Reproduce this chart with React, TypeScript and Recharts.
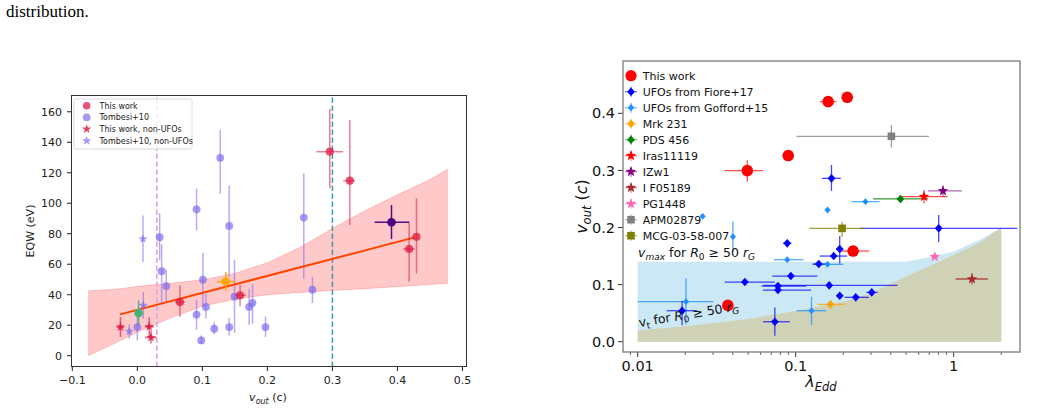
import React from 'react';
import { ComposedChart, Scatter, XAxis, YAxis, ErrorBar, Area, Line, ReferenceLine } from 'recharts';

const FONT = "'DejaVu Sans', Verdana, sans-serif";

// ---------------- Left panel: EQW vs v_out ----------------
// [v_out, EQW, v_lo, v_hi, EQW_lo, EQW_hi]
const thisWorkUFO = [
  [0.296, 133.8, 0.2756, 0.3165, 109.8, 162.2],
  [0.3268, 114.8, 0.3165, 0.3345, 85.7, 154.6],
  [0.418, 70.0, 0.4087, 0.4267, 48.5, 87.5],
  [0.4293, 78.0, 0.4293, 0.4293, 54.0, 103.2],
  [0.0655, 35.2, 0.058, 0.073, 25.4, 46.2],
  [0.158, 39.6, 0.149, 0.167, 32.4, 46.2],
];
const thisWorkNonUFO = [
  [-0.026, 18.8, -0.0317, -0.0205, 12.3, 25.4],
  [0.0183, 19.0, 0.0117, 0.0256, 12.3, 25.0],
  [0.021, 12.0, 0.0117, 0.0297, 8.0, 16.4],
];
// [v_out, EQW, EQW_lo, EQW_hi]
const tombesiUFO = [
  [0.0343, 77.7, 62.6, 93.6],
  [0.0374, 55.4, 35.0, 73.0],
  [0.0445, 45.7, 35.2, 56.5],
  [0.0, 18.8, 10.0, 27.5],
  [0.0911, 96.0, 82.3, 109.6],
  [0.1275, 129.8, 106.3, 148.0],
  [0.1413, 85.1, 51.6, 111.6],
  [0.1009, 49.9, 32.0, 67.4],
  [0.1055, 32.0, 24.3, 40.7],
  [0.0911, 27.0, 17.1, 36.8],
  [0.0983, 10.0, 7.9, 13.3],
  [0.1183, 17.7, 14.0, 22.0],
  [0.1413, 18.8, 13.3, 24.9],
  [0.1495, 38.7, 15.0, 63.0],
  [0.172, 32.0, 20.3, 44.0],
  [0.1772, 34.6, 21.0, 46.8],
  [0.1971, 18.8, 12.3, 25.8],
  [0.256, 90.6, 50.3, 119.5],
  [0.2693, 43.3, 34.6, 51.6],
];
const tombesiNonUFO = [
  [0.0087, 76.6, 61.5, 92.0],
  [0.0092, 33.0, 24.3, 41.8],
  [-0.0123, 16.0, 11.2, 20.8],
];
const greenPoint = [[0.002, 28.0, 0.002, 0.002, 20.0, 36.3]];
const orangePoint = [[0.136, 48.6, 0.122, 0.151, 42.5, 55.0]];
const indigoPoint = [[0.3909, 87.5, 0.365, 0.418, 76.5, 98.8]];
const fitX = [-0.0266, 0.4267];
const fitY = [27.1, 77.6];
const bandX = [-0.076, -0.05, -0.025, 0.0, 0.05, 0.1, 0.15, 0.2, 0.25, 0.3, 0.35, 0.4, 0.45, 0.478];
const bandHi = [42.5, 43.2, 44.0, 45.5, 47.5, 49.8, 54.0, 61.0, 71.0, 83.5, 95.0, 105.5, 115.5, 122.5];
const bandLo = [0.0, 5.0, 10.2, 15.5, 24.5, 32.5, 37.0, 40.0, 41.5, 42.8, 44.0, 45.3, 46.7, 47.5];
const leftXTicks = [-0.1, 0, 0.1, 0.2, 0.3, 0.4, 0.5];
const leftYTicks = [0, 20, 40, 60, 80, 100, 120, 140, 160];
const leftLegendLabels = ['This work', 'Tombesi+10', 'This work, non-UFOs', 'Tombesi+10, non-UFOs'];

// ---------------- Right panel: v_out vs lambda_Edd ----------------
// [lambda, v, lambda_lo, lambda_hi, v_lo, v_hi]
const thisWorkR = [
  [0.1605, 0.4204, 0.142, 0.181, 0.414, 0.427],
  [0.212, 0.428, 0.212, 0.212, 0.428, 0.428],
  [0.0897, 0.326, 0.0897, 0.0897, 0.326, 0.326],
  [0.0494, 0.2996, 0.0353, 0.0623, 0.28, 0.318],
  [0.231, 0.1588, 0.19, 0.2915, 0.1588, 0.1588],
  [0.0372, 0.0636, 0.0372, 0.0372, 0.0636, 0.0636],
];
const fiore = [
  [0.1685, 0.2861, 0.1466, 0.193, 0.264, 0.3095],
  [0.0884, 0.1723, 0.083, 0.094, 0.1723, 0.1723],
  [0.804, 0.1985, 0.2546, 2.53, 0.174, 0.222],
  [0.19, 0.1623, 0.18, 0.2, 0.137, 0.185],
  [0.174, 0.15, 0.142, 0.212, 0.15, 0.15],
  [0.14, 0.136, 0.128, 0.16, 0.136, 0.136],
  [0.0932, 0.115, 0.071, 0.1374, 0.115, 0.115],
  [0.0477, 0.1045, 0.0355, 0.0737, 0.1045, 0.1045],
  [0.0772, 0.0975, 0.0608, 0.117, 0.0975, 0.0975],
  [0.0772, 0.0905, 0.062, 0.125, 0.0905, 0.0905],
  [0.163, 0.0987, 0.0623, 0.4406, 0.0987, 0.0987],
  [0.19, 0.0806, 0.18, 0.2, 0.0806, 0.0806],
  [0.24, 0.0777, 0.204, 0.29, 0.0777, 0.0777],
  [0.303, 0.0864, 0.28, 0.33, 0.0864, 0.0864],
  [0.0191, 0.0543, 0.01525, 0.0238, 0.029, 0.0712],
  [0.0738, 0.035, 0.0623, 0.0916, 0.0105, 0.0601],
];
const gofford = [
  [0.02576, 0.2196, 0.02576, 0.02576, 0.2196, 0.2196],
  [0.159, 0.2307, 0.159, 0.159, 0.2307, 0.2307],
  [0.2764, 0.2453, 0.2258, 0.3398, 0.2453, 0.2453],
  [0.04005, 0.184, 0.04005, 0.04005, 0.1577, 0.21],
  [0.0884, 0.1436, 0.0727, 0.1117, 0.1436, 0.1436],
  [0.159, 0.1355, 0.128, 0.2, 0.1355, 0.1355],
  [0.0202, 0.0701, 0.01, 0.0301, 0.0304, 0.111],
  [0.1259, 0.0543, 0.1014, 0.156, 0.0292, 0.0788],
];
const mrk231 = [[0.166, 0.0654, 0.137, 0.204, 0.0654, 0.0654]];
const pds456 = [[0.4603, 0.25, 0.309, 0.689, 0.25, 0.25]];
const iras11119 = [[0.649, 0.254, 0.4567, 0.916, 0.2423, 0.2657]];
const izw1 = [[0.856, 0.264, 0.689, 1.13, 0.2545, 0.2737]];
const f05189 = [[1.306, 0.1098, 1.03, 1.645, 0.1, 0.12]];
const pg1448 = [[0.7586, 0.1489, 0.72, 0.8, 0.1489, 0.1489]];
const apm02879 = [[0.4035, 0.3597, 0.1012, 0.698, 0.34, 0.3796]];
const mcg = [[0.1967, 0.1985, 0.1217, 0.2738, 0.184, 0.21]];
const regionX = [0.01, 0.02, 0.05, 0.1, 0.2, 0.3, 0.5, 0.7, 1.0, 1.5, 2.0];
const vmaxTop = [0.14, 0.14, 0.14, 0.14, 0.14, 0.14, 0.14, 0.148, 0.158, 0.18, 0.2];
const vtTop = [0.02, 0.027, 0.04, 0.054, 0.07, 0.085, 0.114, 0.132, 0.152, 0.175, 0.2];
const rightXMajor = [0.01, 0.1, 1];
const rightXMinor = [0.009, 0.02, 0.03, 0.04, 0.05, 0.06, 0.07, 0.08, 0.09, 0.2, 0.3, 0.4, 0.5, 0.6, 0.7, 0.8, 0.9, 2];
const rightXLabels = ['0.01', '0.1', '1'];
const rightYTicks = [0, 0.1, 0.2, 0.3, 0.4];
const rightLegendLabels = ['This work', 'UFOs from Fiore+17', 'UFOs from Gofford+15', 'Mrk 231', 'PDS 456', 'Iras11119', 'IZw1', 'I F05189', 'PG1448', 'APM02879', 'MCG-03-58-007'];

// ---------------- helpers ----------------
const rows = (pts: number[][]) =>
  pts.map((p) => ({ x: p[0], y: p[1], ex: [p[0] - p[2], p[3] - p[0]], ey: [p[1] - p[4], p[5] - p[1]] }));
const yRows = (pts: number[][]) =>
  pts.map((p) => ({ x: p[0], y: p[1], ex: [0, 0], ey: [p[1] - p[2], p[3] - p[1]] }));

function starPath(cx: number, cy: number, R: number) {
  const r = R * 0.42;
  let d = '';
  for (let i = 0; i < 10; i++) {
    const rad = i % 2 === 0 ? R : r;
    const a = -Math.PI / 2 + (i * Math.PI) / 5;
    d += (i === 0 ? 'M' : 'L') + (cx + rad * Math.cos(a)).toFixed(2) + ',' + (cy + rad * Math.sin(a)).toFixed(2);
  }
  return d + 'Z';
}

const Glyph = ({ kind, cx, cy, s, fill, op = 1 }: any) => {
  if (cx == null || cy == null) return <g />;
  if (kind === 'circle') return <circle cx={cx} cy={cy} r={s} fill={fill} fillOpacity={op} />;
  if (kind === 'diamond')
    return <path d={`M${cx},${cy - s}L${cx + s * 0.9},${cy}L${cx},${cy + s}L${cx - s * 0.9},${cy}Z`} fill={fill} fillOpacity={op} />;
  if (kind === 'square') return <rect x={cx - s} y={cy - s} width={2 * s} height={2 * s} fill={fill} fillOpacity={op} />;
  return <path d={starPath(cx, cy, s)} fill={fill} fillOpacity={op} />;
};

const shapeOf = (kind: string, s: number, fill: string, op: number) => (props: any) =>
  <Glyph kind={kind} cx={props.cx} cy={props.cy} s={s} fill={fill} op={op} />;

const series = (key: string, data: any[], kind: string, s: number, fill: string, op: number, bar: string, bw: number) => (
  <Scatter key={key} name={key} data={data} dataKey="y" isAnimationActive={false} shape={shapeOf(kind, s, fill, op)}>
    <ErrorBar dataKey="ex" direction="x" width={0} stroke={bar} strokeWidth={bw} />
    <ErrorBar dataKey="ey" direction="y" width={0} stroke={bar} strokeWidth={bw} />
  </Scatter>
);

const fmtL = (v: number) => (v < 0 ? '\u2212' + Math.abs(v).toFixed(1) : v.toFixed(1));

const LogTick = (props: any) => {
  const { x, y, payload } = props;
  const idx = rightXMajor.indexOf(payload.value);
  const major = idx >= 0;
  return (
    <g>
      <line x1={x} x2={x} y1={y} y2={y + (major ? 5 : 2.8)} stroke="#333" strokeWidth={major ? 1 : 0.8} />
      {major && (
        <text x={x} y={y + 18.5} textAnchor="middle" fontSize={14.5} fontFamily={FONT} fill="#111">
          {rightXLabels[idx]}
        </text>
      )}
    </g>
  );
};

// ---------------- charts ----------------
const LeftChart = () => {
  const band = bandX.map((x, i) => ({ x, range: [bandLo[i], bandHi[i]] }));
  const fit = fitX.map((x, i) => ({ x, y: fitY[i] }));
  const tickStyle = { fontSize: 11, fill: '#222', fontFamily: FONT };
  return (
    <ComposedChart width={520} height={409} margin={{ top: 95, right: 53, bottom: 12, left: 0 }}>
      <XAxis dataKey="x" type="number" domain={[-0.102, 0.507]} allowDataOverflow ticks={leftXTicks} tickFormatter={fmtL}
        interval={0} height={30} tickSize={4} tickMargin={5.5} axisLine={false} tickLine={{ stroke: '#222' }} tick={tickStyle} />
      <YAxis dataKey="y" type="number" domain={[-7.4, 171]} allowDataOverflow ticks={leftYTicks} interval={0}
        width={71} tickSize={4} tickMargin={5} axisLine={false} tickLine={{ stroke: '#222' }} tick={tickStyle} />
      <Area data={band} dataKey="range" type="linear" fill="#ff0000" fillOpacity={0.21} stroke="#ff0000" strokeOpacity={0.18}
        strokeWidth={1} isAnimationActive={false} />
      <ReferenceLine x={0.03} stroke="#d9a2e6" strokeWidth={1.5} strokeDasharray="5.5 2.5" />
      <ReferenceLine x={0.3} stroke="#3f9d9d" strokeWidth={1.5} strokeDasharray="5.5 2.5" />
      {series('Tombesi+10', yRows(tombesiUFO), 'circle', 3.9, '#7b68ee', 0.68, 'rgba(123,104,238,0.55)', 1.5)}
      {series('Tombesi+10, non-UFOs', yRows(tombesiNonUFO), 'star', 4.8, '#7b68ee', 0.68, 'rgba(123,104,238,0.55)', 1.5)}
      <Line data={fit} dataKey="y" type="linear" stroke="#ff4500" strokeWidth={2} dot={false} isAnimationActive={false} />
      {series('This work', rows(thisWorkUFO), 'circle', 4.1, '#dc143c', 0.72, 'rgba(220,20,60,0.55)', 1.5)}
      {series('This work, non-UFOs', rows(thisWorkNonUFO), 'star', 5, '#dc143c', 0.78, 'rgba(220,20,60,0.65)', 1.5)}
      {series('green', rows(greenPoint), 'circle', 4.3, '#3cb371', 0.95, 'rgba(60,179,113,0.9)', 1.5)}
      {series('orange', rows(orangePoint), 'circle', 4.3, '#ffa500', 0.95, 'rgba(255,165,0,0.85)', 1.5)}
      {series('indigo', rows(indigoPoint), 'circle', 4.3, '#4b0082', 1, 'rgba(75,0,130,0.95)', 1.5)}
    </ComposedChart>
  );
};

const RightChart = () => {
  const blue = regionX.map((x, i) => ({ x, range: [0, vmaxTop[i]] }));
  const olive = regionX.map((x, i) => ({ x, range: [0, vtTop[i]] }));
  const allTicks = [...rightXMajor, ...rightXMinor].sort((a, b) => a - b);
  return (
    <ComposedChart width={519} height={409} margin={{ top: 61, right: 19, bottom: 17, left: 0 }}>
      <XAxis dataKey="x" type="number" scale="log" domain={[0.00807, 2.63]} allowDataOverflow ticks={allTicks} interval={0}
        tick={(p: any) => <LogTick {...p} />} tickSize={0} tickMargin={0} tickLine={false} axisLine={false} height={40} />
      <YAxis dataKey="y" type="number" domain={[-0.018, 0.4916]} allowDataOverflow ticks={rightYTicks} interval={0}
        tickFormatter={(v: number) => v.toFixed(1)} width={103} tickSize={5} tickMargin={3} axisLine={false}
        tickLine={{ stroke: '#333' }} tick={{ fontSize: 14.5, fill: '#111', fontFamily: FONT }} />
      <Area data={blue} dataKey="range" type="linear" fill="#cde8f5" fillOpacity={1} stroke="none" isAnimationActive={false} />
      <Area data={olive} dataKey="range" type="linear" fill="#cfd2b6" fillOpacity={1} stroke="none" isAnimationActive={false} />
      {series('Gofford', rows(gofford), 'diamond', 3.4, '#1e90ff', 1, 'rgba(30,144,255,0.75)', 1.3)}
      {series('Fiore', rows(fiore), 'diamond', 4.3, '#0000ff', 1, 'rgba(0,0,255,0.72)', 1.3)}
      {series('Mrk231', rows(mrk231), 'diamond', 4.3, '#ffa500', 1, 'rgba(255,165,0,0.8)', 1.3)}
      {series('PDS456', rows(pds456), 'diamond', 4.3, '#008000', 1, 'rgba(0,128,0,0.8)', 1.3)}
      {series('Iras11119', rows(iras11119), 'star', 5.5, '#ff0000', 1, 'rgba(255,0,0,0.7)', 1.3)}
      {series('IZw1', rows(izw1), 'star', 5.5, '#800080', 1, 'rgba(128,0,128,0.6)', 1.3)}
      {series('F05189', rows(f05189), 'star', 5.5, '#a52a2a', 1, 'rgba(165,42,42,0.8)', 1.3)}
      {series('PG1448', rows(pg1448), 'star', 5.5, '#ff69b4', 1, 'rgba(255,105,180,0.7)', 1.3)}
      {series('APM02879', rows(apm02879), 'square', 3.8, '#808080', 1, 'rgba(128,128,128,0.75)', 1.3)}
      {series('MCG', rows(mcg), 'square', 3.8, '#808000', 1, 'rgba(128,128,0,0.75)', 1.3)}
      {series('ThisWork', rows(thisWorkR), 'circle', 5.8, '#ff0000', 1, 'rgba(255,0,0,0.7)', 1.3)}
    </ComposedChart>
  );
};

// ---------------- overlay (frames, legends, labels) ----------------
const leftLegendGlyphs = [
  { kind: 'circle', s: 3.8, fill: '#dc143c', op: 0.72 },
  { kind: 'circle', s: 3.8, fill: '#7b68ee', op: 0.68 },
  { kind: 'star', s: 4.8, fill: '#dc143c', op: 0.8 },
  { kind: 'star', s: 4.8, fill: '#7b68ee', op: 0.68 },
];
const rightLegendGlyphs = [
  { kind: 'circle', s: 5.6, fill: '#ff0000', bar: '' },
  { kind: 'diamond', s: 4.3, fill: '#0000ff', bar: 'rgba(0,0,255,0.6)' },
  { kind: 'diamond', s: 3.6, fill: '#1e90ff', bar: 'rgba(30,144,255,0.6)' },
  { kind: 'diamond', s: 4.3, fill: '#ffa500', bar: 'rgba(255,165,0,0.6)' },
  { kind: 'diamond', s: 4.3, fill: '#008000', bar: 'rgba(0,128,0,0.6)' },
  { kind: 'star', s: 5.5, fill: '#ff0000', bar: 'rgba(255,0,0,0.6)' },
  { kind: 'star', s: 5.5, fill: '#800080', bar: 'rgba(128,0,128,0.6)' },
  { kind: 'star', s: 5.5, fill: '#a52a2a', bar: 'rgba(165,42,42,0.6)' },
  { kind: 'star', s: 5.5, fill: '#ff69b4', bar: 'rgba(255,105,180,0.6)' },
  { kind: 'square', s: 3.8, fill: '#808080', bar: 'rgba(128,128,128,0.6)' },
  { kind: 'square', s: 3.8, fill: '#808000', bar: 'rgba(128,128,0,0.6)' },
];

const Overlay = () => (
  <svg width={1039} height={409} style={{ position: 'absolute', left: 0, top: 0, pointerEvents: 'none' }}>
    <text x={6} y={17} fontFamily="'Liberation Serif', 'Times New Roman', serif" fontSize={17} fill="#000">distribution.</text>
    {/* frames */}
    <rect x={71.5} y={95.5} width={395} height={271} fill="none" stroke="#333" strokeWidth={1} />
    <rect x={623} y={61} width={397} height={291} fill="none" stroke="#7a7a7a" strokeWidth={1.3} />
    {/* left legend */}
    <rect x={74} y={99} width={118} height={50} rx={2} fill="#fff" fillOpacity={0.8} stroke="#d0d0d0" strokeWidth={0.8} />
    {leftLegendLabels.map((t, i) => {
      const y = 105.7 + i * 11.7;
      const g = leftLegendGlyphs[i];
      return (
        <g key={t}>
          <Glyph kind={g.kind} cx={86.7} cy={y} s={g.s} fill={g.fill} op={g.op} />
          <text x={99.5} y={y + 2.9} fontSize={8} fontFamily={FONT} fill="#222">{t}</text>
        </g>
      );
    })}
    {/* right legend */}
    {rightLegendLabels.map((t, i) => {
      const y = 75.7 + i * 16;
      const g = rightLegendGlyphs[i];
      return (
        <g key={t}>
          {g.bar && <line x1={625} x2={637} y1={y} y2={y} stroke={g.bar} strokeWidth={1.2} />}
          {g.bar && <line x1={631} x2={631} y1={y - 5} y2={y + 5} stroke={g.bar} strokeWidth={1.2} />}
          <Glyph kind={g.kind} cx={631} cy={y} s={g.s} fill={g.fill} op={1} />
          <text x={642.7} y={y + 4} fontSize={11} fontFamily={FONT} fill="#111">{t}</text>
        </g>
      );
    })}
    {/* right annotations */}
    <text x={638} y={257} fontSize={12.5} fontFamily={FONT} fill="#111">
      <tspan fontStyle="italic">v</tspan>
      <tspan fontStyle="italic" fontSize={9} dy={3}>max</tspan>
      <tspan dy={-3}> for </tspan>
      <tspan fontStyle="italic">R</tspan>
      <tspan fontSize={9} dy={3}>0</tspan>
      <tspan dy={-3}> ≥ 50 </tspan>
      <tspan fontStyle="italic">r</tspan>
      <tspan fontStyle="italic" fontSize={9} dy={3}>G</tspan>
    </text>
    <text transform="translate(639.5,327) rotate(-9.5)" fontSize={12.5} fontFamily={FONT} fill="#111">
      <tspan>v</tspan>
      <tspan fontSize={9} dy={3}>t</tspan>
      <tspan dy={-3}> for </tspan>
      <tspan fontStyle="italic">R</tspan>
      <tspan fontSize={9} dy={3}>0</tspan>
      <tspan dy={-3}> ≥ 50 </tspan>
      <tspan fontStyle="italic">r</tspan>
      <tspan fontStyle="italic" fontSize={9} dy={3}>G</tspan>
    </text>
    {/* axis labels */}
    <text transform="translate(34,231) rotate(-90)" textAnchor="middle" fontSize={11} fontFamily={FONT} fill="#222">EQW (eV)</text>
    <text x={268} y={401} textAnchor="middle" fontSize={11} fontFamily={FONT} fill="#222">
      <tspan fontStyle="italic">v</tspan>
      <tspan fontStyle="italic" fontSize={8} dy={2.5}>out</tspan>
      <tspan dy={-2.5}> (c)</tspan>
    </text>
    <text transform="translate(587,206.5) rotate(-90)" textAnchor="middle" fontSize={16} fontFamily={FONT} fill="#111">
      <tspan fontStyle="italic">v</tspan>
      <tspan fontStyle="italic" fontSize={11.5} dy={3.5}>out</tspan>
      <tspan dy={-3.5}> (</tspan>
      <tspan fontStyle="italic">c</tspan>
      <tspan>)</tspan>
    </text>
    <text x={821} y={387} textAnchor="middle" fontSize={16} fontFamily={FONT} fill="#111">
      <tspan fontStyle="italic">λ</tspan>
      <tspan fontStyle="italic" fontSize={11.5} dy={3.5}>Edd</tspan>
    </text>
  </svg>
);

export default function App() {
  return (
    <div style={{ position: 'absolute', left: 0, top: 0, width: 1039, height: 409, background: '#fff', overflow: 'hidden' }}>
      <div style={{ position: 'absolute', left: 0, top: 0 }}>
        <LeftChart />
      </div>
      <div style={{ position: 'absolute', left: 520, top: 0 }}>
        <RightChart />
      </div>
      <Overlay />
    </div>
  );
}
